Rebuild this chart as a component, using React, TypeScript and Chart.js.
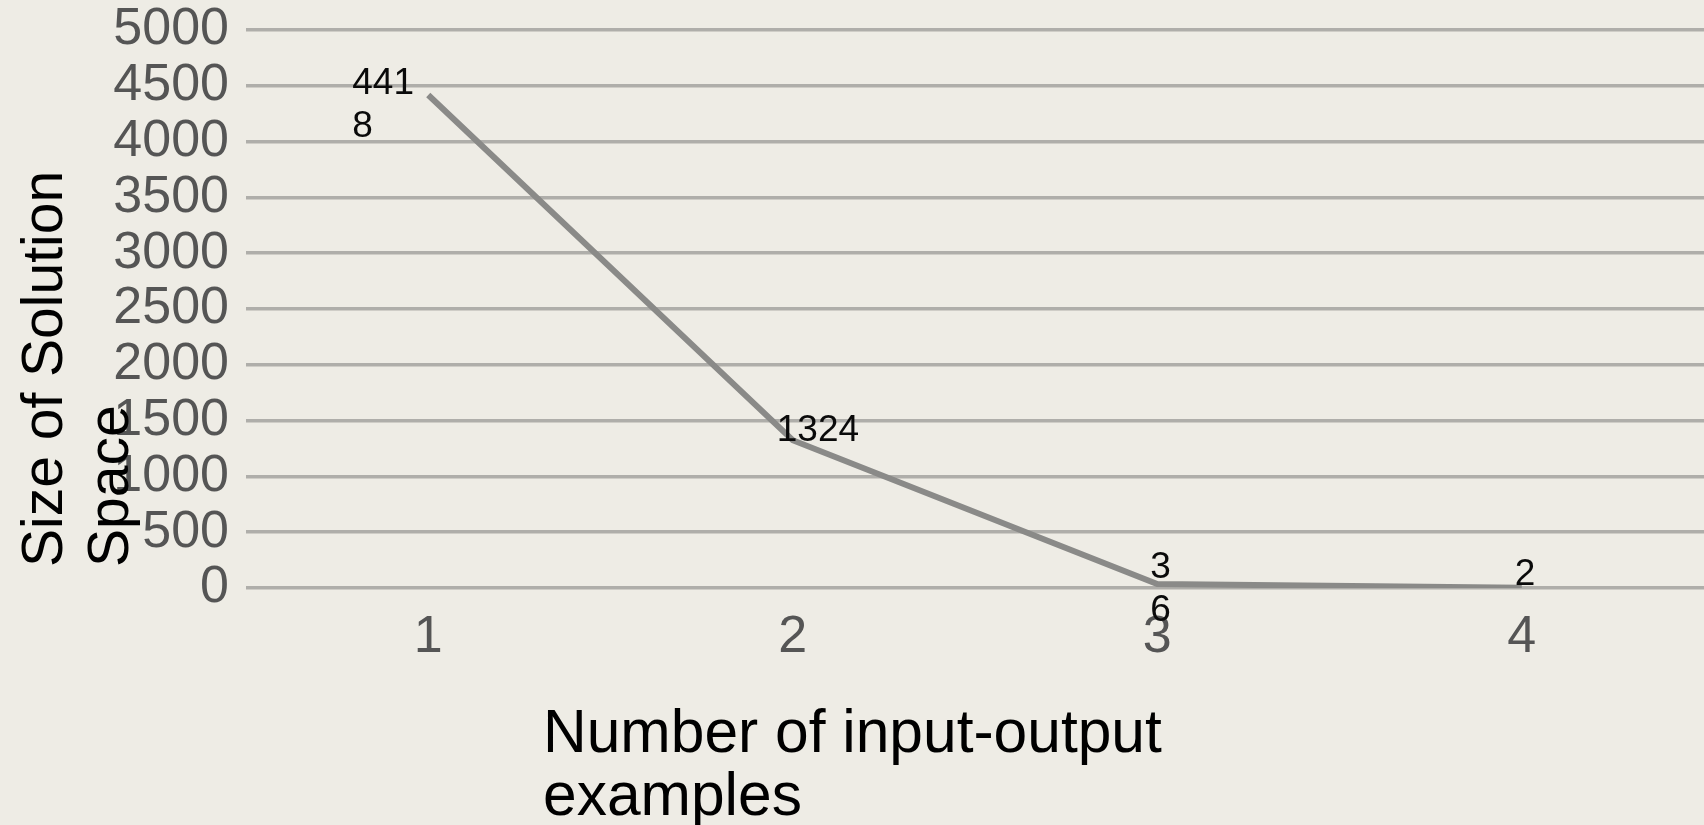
import React, { useEffect, useRef } from "react";
import { Chart, registerables } from "chart.js";

Chart.register(...registerables);

const categories = ["1", "2", "3", "4"];
const solutionSpace = [4418, 1324, 36, 2];
const dataLabelLines = [["441", "8"], ["1324"], ["3", "6"], ["2"]];
const yTickMax = 5000;
const yTickStep = 500;
const yTitleLines = ["Size of Solution", "Space"];
const xTitleLines = ["Number of input-output", "examples"];

// label placement relative to each point (style, not data)
const labelOffsets = [
  [-76, -1],
  [-16, 1],
  [-7, -6],
  [-7, -3],
];

const BG = "#eeece5";
const TICK = "#555555";
const W = 1704;
const H = 825;

const decor = {
  id: "decor",
  beforeDraw(chart: any) {
    const ctx = chart.ctx;
    ctx.save();
    ctx.fillStyle = BG;
    ctx.fillRect(0, 0, chart.width, chart.height);
    ctx.restore();
  },
  afterDatasetsDraw(chart: any) {
    const ctx = chart.ctx;
    const meta = chart.getDatasetMeta(0);
    ctx.save();
    ctx.fillStyle = "#0a0a0a";
    ctx.font = '37px "Liberation Sans", Arial, sans-serif';
    ctx.textAlign = "left";
    ctx.textBaseline = "alphabetic";
    meta.data.forEach((pt: any, i: number) => {
      const [dx, dy] = labelOffsets[i];
      dataLabelLines[i].forEach((line, j) => {
        ctx.fillText(line, pt.x + dx, pt.y + dy + j * 43);
      });
    });
    ctx.restore();
  },
  afterDraw(chart: any) {
    const ctx = chart.ctx;
    ctx.save();
    ctx.fillStyle = "#000000";
    ctx.textAlign = "left";
    ctx.textBaseline = "alphabetic";
    // y title
    ctx.font = '57px "Liberation Sans", Arial, sans-serif';
    ctx.save();
    ctx.translate(62, 567);
    ctx.rotate(-Math.PI / 2);
    yTitleLines.forEach((line, j) => ctx.fillText(line, 0, j * 66));
    ctx.restore();
    // x title
    ctx.font = '60.5px "Liberation Sans", Arial, sans-serif';
    ctx.save();
    ctx.translate(543, 752);
    xTitleLines.forEach((line, j) => ctx.fillText(line, 0, j * 63));
    ctx.restore();
    ctx.restore();
  },
};

export default function App() {
  const ref = useRef<HTMLCanvasElement | null>(null);

  useEffect(() => {
    document.body.style.margin = "0";
    document.body.style.background = BG;
    const canvas = ref.current!;
    const chart = new Chart(canvas, {
      type: "line",
      data: {
        labels: categories,
        datasets: [
          {
            data: solutionSpace,
            borderColor: "#8a8a88",
            borderWidth: 6,
            pointRadius: 0,
            tension: 0,
            fill: false,
          },
        ],
      },
      options: {
        responsive: false,
        animation: false,
        layout: { padding: { top: 29, left: 0, right: 0, bottom: 0 } },
        plugins: {
          legend: { display: false },
          tooltip: { enabled: false },
        },
        scales: {
          x: {
            type: "category",
            offset: true,
            grid: { display: false, drawTicks: false },
            border: { display: false },
            ticks: {
              color: TICK,
              font: { family: '"Liberation Sans", Arial, sans-serif', size: 52 },
              padding: 18,
              maxRotation: 0,
            },
            afterFit(scale: any) {
              scale.height = 237;
            },
          },
          y: {
            min: 0,
            max: yTickMax,
            grid: { color: "#afaeaa", lineWidth: 3.5, drawTicks: false },
            border: { display: false },
            ticks: {
              stepSize: yTickStep,
              autoSkip: false,
              color: TICK,
              font: { family: '"Liberation Sans", Arial, sans-serif', size: 52, lineHeight: 0.5 },
              padding: 17,
              callback: (v: any) => String(v),
            },
            afterFit(scale: any) {
              scale.width = 246;
            },
          },
        },
      },
      plugins: [decor],
    });
    return () => chart.destroy();
  }, []);

  return (
    <div style={{ position: "fixed", left: 0, top: 0, width: W, height: H, background: BG }}>
      <canvas ref={ref} width={W} height={H} style={{ display: "block" }} />
    </div>
  );
}
